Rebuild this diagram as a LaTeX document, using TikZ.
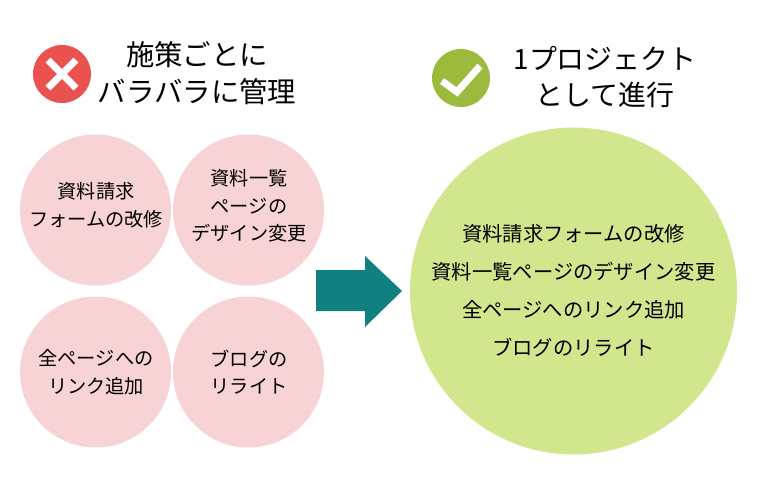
\documentclass[tikz,border=0pt]{standalone}
\usepackage{fontspec}
\setmainfont{Noto Sans CJK JP}
\usepackage{tikz}
\definecolor{badpink}{HTML}{F8D3D5}
\definecolor{goodgreen}{HTML}{D2E68D}
\definecolor{badred}{HTML}{EA524F}
\definecolor{checkgreen}{HTML}{9CBB3C}
\definecolor{arrowteal}{HTML}{108080}
\tikzset{
  taskcircle/.style={circle,fill=badpink,minimum size=151pt,inner sep=0pt},
  tasktext/.style={align=center,inner sep=0pt,font=\fontsize{19.2}{27.5}\selectfont},
  iconcircle/.style={circle,minimum size=58pt,inner sep=0pt},
  headline/.style={align=center,inner sep=0pt,font=\fontsize{28.4}{37}\selectfont},
  markline/.style={white,line width=7pt}
}

\begin{document}
\begin{tikzpicture}[x=1pt,y=-1pt]
  \useasboundingbox (0,0) rectangle (760,483);
  \node[iconcircle,fill=badred] (badicon) at (62,74) {};
  \draw[markline] (48,60) -- (76,88);
  \draw[markline] (76,60) -- (48,88);
  \node[headline] (badtitle) at (197,73) {施策ごとに\\バラバラに管理};
  \node[iconcircle,fill=checkgreen] (goodicon) at (461,78) {};
  \draw[markline] (442,81) -- (457,92) -- (480,66);
  \node[headline,font=\fontsize{27.9}{36}\selectfont] (goodtitle) at (605,77) {1プロジェクト\\として進行};

  \node[taskcircle] (form) at (95.5,210) {};
  \node[taskcircle] (list) at (248.5,210) {};
  \node[taskcircle] (link) at (95.5,372) {};
  \node[taskcircle] (blog) at (248.5,372) {};
  \node[tasktext] (formtext) at (96,205) {資料請求\\フォームの改修};
  \node[tasktext] (listtext) at (249,206) {資料一覧\\ページの\\デザイン変更};
  \node[tasktext] (linktext) at (96,372) {全ページへの\\リンク追加};
  \node[tasktext] (blogtext) at (249,372) {ブログの\\リライト};

  \fill[arrowteal] (316,270) -- (365,270) -- (365,256) -- (402,291) -- (365,327) -- (365,311) -- (316,311) -- cycle;

  \node[circle,fill=goodgreen,minimum size=327pt,inner sep=0pt,align=center,font=\fontsize{20.3}{38}\selectfont] (project) at (573.5,291)
    {資料請求フォームの改修\\資料一覧ページのデザイン変更\\全ページへのリンク追加\\ブログのリライト};
\end{tikzpicture}
\end{document}
